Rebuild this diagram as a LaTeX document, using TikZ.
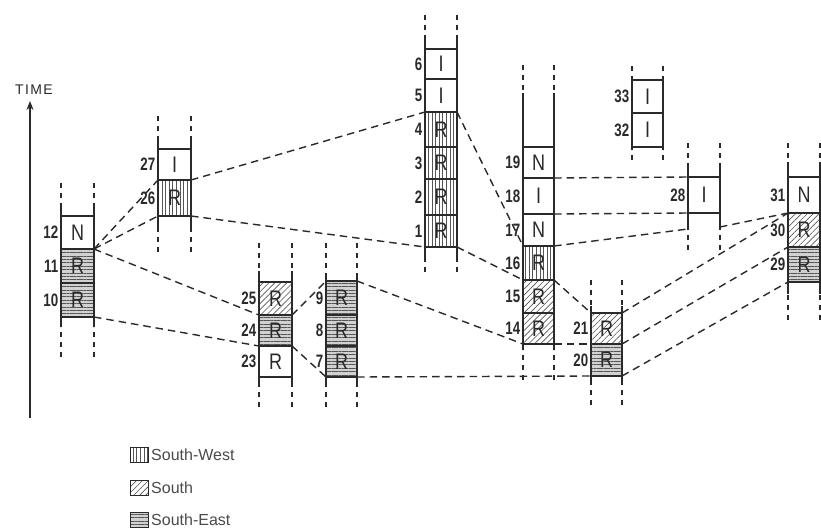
\documentclass[tikz,border=0pt]{standalone}
\usepackage{fontspec}
\setmainfont{Liberation Sans}
\usetikzlibrary{patterns.meta,arrows.meta}
\definecolor{ink}{HTML}{2A2A2A}
\definecolor{hatch}{HTML}{555555}
\definecolor{legtext}{HTML}{4A4A4A}

\newcommand\cellletter[1]{\scalebox{0.8}[1]{\fontsize{22.5}{22.5}\selectfont #1}}
\newcommand\numtxt[1]{\scalebox{0.74}[1]{\fontsize{18}{18}\selectfont\bfseries #1}}

\tikzset{
  x=1pt, y=-1pt,
  rail/.style={draw=ink, line width=2pt},
  railext/.style={draw=ink, line width=1.7pt, dash pattern=on 5pt off 5pt},
  cellbox/.style={draw=ink, line width=2pt, inner sep=0pt, outer sep=0pt, text=ink},
  plain/.style={},
  sw/.style={preaction={pattern={Lines[angle=90,distance=3.6pt,line width=0.65pt]}, pattern color=hatch}},
  s/.style={preaction={pattern={Lines[angle=45,distance=4.2pt,line width=0.65pt]}, pattern color=hatch}},
  se/.style={preaction={fill=black!18}, preaction={pattern={Lines[angle=0,distance=3.4pt,line width=0.65pt]}, pattern color=hatch}},
  numlab/.style={anchor=east, inner sep=0pt, text=ink},
  conn/.style={draw=ink, line width=1.4pt, dash pattern=on 7.5pt off 5pt},
  legbox/.style={draw=ink, line width=1pt, minimum width=18pt, minimum height=15pt, inner sep=0pt, outer sep=0pt},
  legtxt/.style={anchor=west, inner sep=0pt, text=legtext, font=\fontsize{16}{16}\selectfont},
}

% #1 number, #2 xl, #3 xr, #4 yt, #5 yb, #6 letter, #7 style
\newcommand\mkcell[7]{%
  \node[cellbox,#7,minimum width={(#3-#2)*1pt},minimum height={(#5-#4)*1pt}] (c#1) at ({(#2+#3)/2},{(#4+#5)/2}) {\cellletter{#6}};
  \node[numlab] (n#1) at ([xshift=-2.5pt]c#1.west) {\numtxt{#1}};
}
% #1 xl, #2 xr, #3 solid top, #4 solid bottom, #5 dash top, #6 dash bottom
\newcommand\colrails[6]{%
  \draw[rail] (#1,#3) -- (#1,#4) (#2,#3) -- (#2,#4);
  \draw[railext] (#1,#5) -- (#1,#3) (#2,#5) -- (#2,#3) (#1,#6) -- (#1,#4) (#2,#6) -- (#2,#4);
}

\begin{document}
\begin{tikzpicture}
\useasboundingbox (0,0) rectangle (821,528);
\fill[white] (0,0) rectangle (821,528);

% time axis
\coordinate (axbot) at (30,418);
\coordinate (axtop) at (30,101);
\draw[draw=ink, line width=1.9pt, -{Stealth[length=9pt,width=7pt]}] (axbot) -- (axtop);
\node[text=ink, inner sep=0pt, font=\fontsize{14}{14}\selectfont\addfontfeature{LetterSpace=10}] (time) at (34,90) {TIME};

% column A
\mkcell{12}{61}{94}{216}{249}{N}{plain}
\mkcell{11}{61}{94}{249}{283}{R}{se}
\mkcell{10}{61}{94}{283}{317}{R}{se}
\colrails{61}{94}{207}{327}{183}{357}
% column B
\mkcell{27}{158}{191}{149}{180}{I}{plain}
\mkcell{26}{158}{191}{180}{216}{R}{sw}
\colrails{158}{191}{138}{227}{116}{252}
% column C
\mkcell{25}{259}{292}{282}{315}{R}{s}
\mkcell{24}{259}{292}{315}{346}{R}{se}
\mkcell{23}{259}{292}{346}{377}{R}{plain}
\colrails{259}{292}{271}{386}{243}{407}
% column D
\mkcell{9}{326}{357}{281}{315}{R}{se}
\mkcell{8}{326}{357}{315}{346}{R}{se}
\mkcell{7}{326}{357}{346}{377}{R}{se}
\colrails{326}{357}{276}{386}{243}{407}
% column E
\mkcell{6}{425}{457}{49}{79}{I}{plain}
\mkcell{5}{425}{457}{79}{112}{I}{plain}
\mkcell{4}{425}{457}{112}{147}{R}{sw}
\mkcell{3}{425}{457}{147}{179}{R}{sw}
\mkcell{2}{425}{457}{179}{215}{R}{sw}
\mkcell{1}{425}{457}{215}{247}{R}{sw}
\colrails{425}{457}{38}{257}{15}{272}
% column F
\mkcell{19}{523}{554}{147}{178}{N}{plain}
\mkcell{18}{523}{554}{178}{214}{I}{plain}
\mkcell{17}{523}{554}{214}{246}{N}{plain}
\mkcell{16}{523}{554}{246}{280}{R}{sw}
\mkcell{15}{523}{554}{280}{313}{R}{s}
\mkcell{14}{523}{554}{313}{344}{R}{s}
\colrails{523}{554}{93}{350}{65}{380}
% column G
\mkcell{21}{591}{622}{313}{344}{R}{s}
\mkcell{20}{591}{622}{344}{376}{R}{se}
\colrails{591}{622}{306}{383}{280}{405}
% column H
\mkcell{33}{632}{663}{80}{113}{I}{plain}
\mkcell{32}{632}{663}{113}{147}{I}{plain}
\colrails{632}{663}{76}{150}{66}{160}
% column I
\mkcell{28}{688}{720}{177}{213}{I}{plain}
\draw[rail] (688,163) -- (688,229) (720,163) -- (720,227);
\draw[railext] (688,143) -- (688,163) (720,143) -- (720,163) (688,250) -- (688,229) (720,250) -- (720,227);
\coordinate (ileft) at (688,229);
\coordinate (iright) at (720,227);
% column J
\mkcell{31}{788}{820}{177}{213}{N}{plain}
\mkcell{30}{788}{820}{213}{247}{R}{s}
\mkcell{29}{788}{820}{247}{282}{R}{se}
\colrails{788}{820}{162}{294}{143}{320}

% connectors
\draw[conn] (c12.south east) -- (c26.north west);
\draw[conn] (c12.south east) -- (c26.south west);
\draw[conn] (c12.south east) -- (c25.south west);
\draw[conn] (c10.south east) -- (c23.north west);
\draw[conn] (c26.north east) -- (c4.north west);
\draw[conn] (c26.south east) -- (c1.south west);
\draw[conn] (c25.south east) -- (c9.north west);
\draw[conn] (c23.north east) -- (c7.south west);
\draw[conn] (c9.north east) -- (c14.south west);
\draw[conn] (c7.south east) -- (c20.south west);
\draw[conn] (c4.north east) -- (c16.north west);
\draw[conn] (c1.south east) -- (c15.north west);
\draw[conn] (c19.south east) -- (c28.north west);
\draw[conn] (c18.south east) -- (c28.south west);
\draw[conn] (c17.south east) -- (ileft);
\draw[conn] (c15.north east) -- (c21.north west);
\draw[conn] (c14.south east) -- (c20.north west);
\draw[conn] (iright) -- (c30.north west);
\draw[conn] (c21.north east) -- (c30.north west);
\draw[conn] (c20.north east) -- (c29.north west);
\draw[conn] (c20.south east) -- (c29.south west);

% legend
\node[legbox,sw] (lsw) at (139,454.5) {};
\node[legbox,s] (ls) at (139,487.5) {};
\node[legbox,se] (lse) at (139,520) {};
\node[legtxt] (tsw) at ([xshift=3pt]lsw.east) {South-West};
\node[legtxt] (ts) at ([xshift=3pt]ls.east) {South};
\node[legtxt] (tse) at ([xshift=3pt]lse.east) {South-East};
\end{tikzpicture}
\end{document}
